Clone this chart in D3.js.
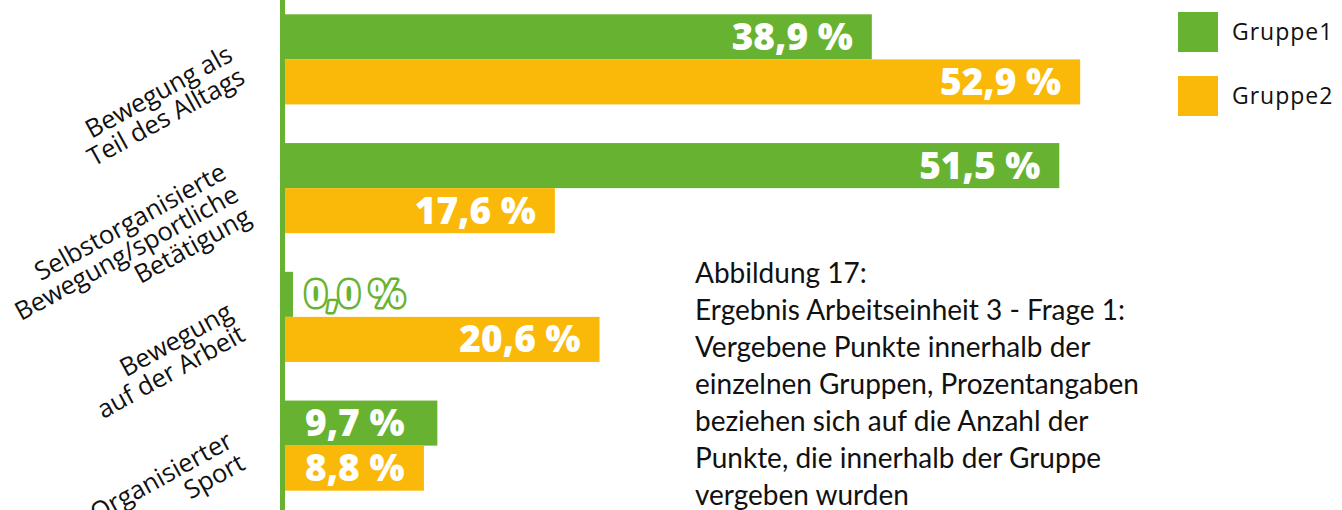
<!DOCTYPE html>
<html>
<head>
<meta charset="utf-8">
<script src="https://cdn.jsdelivr.net/npm/d3@7"></script>
<style>
  body { margin: 0; background: #fff; }
  svg { display: block; }
</style>
</head>
<body>
<div id="chart"></div>
<script>
// data
const categories = [
  ['Bewegung als', 'Teil des Alltags'],
  ['Selbstorganisierte', 'Bewegung/sportliche', 'Betätigung'],
  ['Bewegung', 'auf der Arbeit'],
  ['Organisierter', 'Sport']
];
const groups = ['Gruppe1', 'Gruppe2'];
const gruppe1 = [38.9, 51.5, 0.0, 9.7];
const gruppe2 = [52.9, 17.6, 20.6, 8.8];
const caption = [
  'Abbildung 17:',
  'Ergebnis Arbeitseinheit 3 - Frage 1:',
  'Vergebene Punkte innerhalb der',
  'einzelnen Gruppen, Prozentangaben',
  'beziehen sich auf die Anzahl der',
  'Punkte, die innerhalb der Gruppe',
  'vergeben wurden'
];

const w = 1342,
  h = 510;
const green = '#67b331',
  orange = '#fab909';
const axisX = 285;

const color = d3.scaleOrdinal().domain(groups).range([green, orange]);

const svg = d3
  .select('#chart')
  .append('svg')
  .attr('width', w)
  .attr('height', h);

const y = d3
  .scaleBand()
  .domain(d3.range(categories.length))
  .range([-5, 510])
  .paddingInner(0.3)
  .paddingOuter(0.15);

const ySub = d3.scaleBand().domain(groups).range([0, y.bandwidth()]);

// small stub so a 0 value still shows a sliver
const x = d3.scaleLinear().domain([0, 60]).range([axisX + 8, axisX + 8 + 60 * 14.88]);

const fmt = (v) => d3.format('.1f')(v).replace('.', ',') + ' %';

const rows = categories.map((c, i) => ({
  i,
  values: [
    { g: 'Gruppe1', v: gruppe1[i] },
    { g: 'Gruppe2', v: gruppe2[i] }
  ]
}));

const rowG = svg
  .selectAll('g.row')
  .data(rows)
  .join('g')
  .attr('class', 'row')
  .attr('transform', (d) => `translate(0,${y(d.i)})`);

rowG
  .selectAll('rect')
  .data((d) => d.values)
  .join('rect')
  .attr('x', axisX)
  .attr('y', (d) => ySub(d.g))
  .attr('width', (d) => x(d.v) - axisX)
  .attr('height', ySub.bandwidth())
  .attr('fill', (d) => color(d.g));

rowG
  .selectAll('text.val')
  .data((d) => d.values)
  .join('text')
  .attr('class', 'val')
  .attr('x', (d) => (x(d.v) - x(0) > 200 ? x(d.v) - 19 : axisX + 20))
  .attr('y', (d) => ySub(d.g) + ySub.bandwidth() / 2 + 13)
  .attr('text-anchor', (d) => (x(d.v) - x(0) > 200 ? 'end' : 'start'))
  .attr('font-family', 'Open Sans, sans-serif')
  .attr('font-weight', 800)
  .attr('font-size', 37)
  .attr('fill', '#fff')
  .attr('stroke', (d) => (d.v === 0 ? color(d.g) : 'none'))
  .attr('stroke-width', 5)
  .attr('stroke-linejoin', 'round')
  .attr('paint-order', 'stroke')
  .text((d) => fmt(d.v));

// axis line
svg
  .append('line')
  .attr('x1', axisX - 2.5)
  .attr('x2', axisX - 2.5)
  .attr('y1', 0)
  .attr('y2', h)
  .attr('stroke', green)
  .attr('stroke-width', 5);

// rotated category labels
const lineH = 25.5;
const catG = svg
  .selectAll('g.cat')
  .data(categories)
  .join('g')
  .attr('class', 'cat')
  .attr('transform', (d, i) => `translate(239,${y(i) + y.bandwidth() / 2 + 9}) rotate(-29)`);

catG
  .append('text')
  .attr('text-anchor', 'end')
  .attr('font-family', 'Open Sans, sans-serif')
  .attr('font-size', 25.5)
  .attr('fill', '#111')
  .selectAll('tspan')
  .data((d) => d)
  .join('tspan')
  .attr('x', 0)
  .attr('y', (d, i, n) => (i - (n.length - 1) / 2) * lineH + 3)
  .text((d) => d);

// legend
const leg = svg
  .selectAll('g.leg')
  .data(groups)
  .join('g')
  .attr('class', 'leg')
  .attr('transform', (d, i) => `translate(1178,${12 + i * 64})`);

leg.append('rect').attr('width', 40).attr('height', 40).attr('fill', (d) => color(d));

leg
  .append('text')
  .attr('x', 54)
  .attr('y', 28)
  .attr('font-family', 'Open Sans, sans-serif')
  .attr('font-size', 23)
  .attr('letter-spacing', 1)
  .attr('fill', '#111')
  .text((d) => d);

// caption
svg
  .append('text')
  .attr('font-family', 'Lato, sans-serif')
  .attr('font-size', 28)
  .attr('fill', '#111')
  .selectAll('tspan')
  .data(caption)
  .join('tspan')
  .attr('x', 695)
  .attr('y', (d, i) => 283 + i * 37)
  .text((d) => d);
</script>
</body>
</html>
